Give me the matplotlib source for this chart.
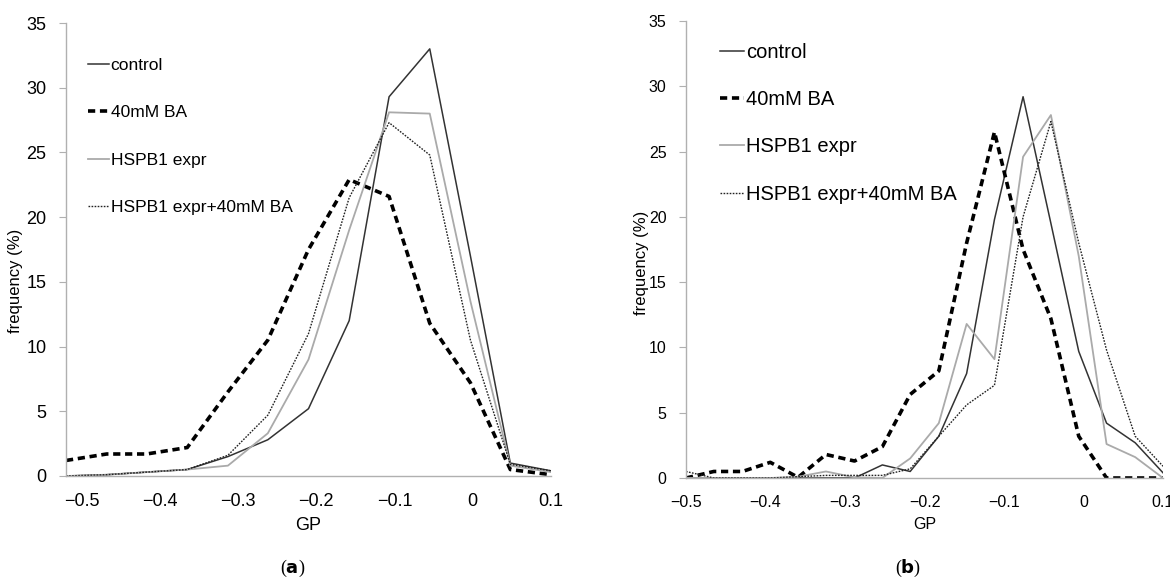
import numpy as np
import matplotlib
matplotlib.use("Agg")
from matplotlib import pyplot as plt

plt.rcParams['font.family'] = ['Liberation Sans', 'DejaVu Sans']

# panel (a) data
gp_a = [-0.52, -0.468, -0.417, -0.365, -0.313, -0.262, -0.21, -0.158, -0.107, -0.055, -0.003, 0.048, 0.1]
control_a = [0.0, 0.1, 0.3, 0.5, 1.5, 2.8, 5.2, 12.0, 29.3, 33.0, 17.0, 1.0, 0.4]
ba_a = [1.2, 1.7, 1.7, 2.2, 6.5, 10.5, 17.5, 22.9, 21.6, 11.8, 7.2, 0.5, 0.1]
hspb1_a = [0.0, 0.1, 0.3, 0.5, 0.8, 3.3, 9.0, 19.0, 28.1, 28.0, 13.5, 0.8, 0.3]
hspb1_ba_a = [0.0, 0.1, 0.3, 0.5, 1.6, 4.7, 11.0, 21.5, 27.3, 24.8, 10.5, 0.9, 0.4]

# panel (b) data
gp_b = [-0.5, -0.465, -0.429, -0.394, -0.359, -0.324, -0.288, -0.253, -0.218,
        -0.182, -0.147, -0.112, -0.076, -0.041, -0.006, 0.029, 0.065, 0.1]
control_b = [0.0, 0.0, 0.0, 0.0, 0.0, 0.0, 0.0, 1.0, 0.5, 3.2, 8.0, 19.8, 29.2, 19.5, 9.7, 4.2, 2.7, 0.4]
ba_b = [0.0, 0.5, 0.5, 1.2, 0.05, 1.8, 1.3, 2.4, 6.4, 8.2, 18.0, 26.5, 17.5, 12.2, 3.2, 0.0, 0.0, 0.0]
hspb1_b = [0.0, 0.0, 0.0, 0.0, 0.1, 0.5, 0.05, 0.0, 1.5, 4.2, 11.8, 9.1, 24.6, 27.8, 17.0, 2.6, 1.6, 0.0]
hspb1_ba_b = [0.5, 0.0, 0.0, 0.0, 0.1, 0.2, 0.2, 0.2, 0.7, 3.2, 5.6, 7.1, 20.0, 27.3, 18.0, 9.8, 3.2, 0.9]

labels = ["control", "40mM BA", "HSPB1 expr", "HSPB1 expr+40mM BA"]
xticks = [-0.5, -0.4, -0.3, -0.2, -0.1, 0, 0.1]
xticklabels = ["\u22120.5", "\u22120.4", "\u22120.3", "\u22120.2", "\u22120.1", "0", "0.1"]
yticks = [0, 5, 10, 15, 20, 25, 30, 35]

fig = plt.figure(figsize=(11.7, 5.78), dpi=100)
W, H = 1170, 578


def panel(rect, gp, series, xlim, tick_fs, leg_fs, leg_anchor, lab_spacing, ylab_pos, ylab_fs):
    l, t, r, b = rect
    ax = fig.add_axes([l / W, 1 - b / H, (r - l) / W, (b - t) / H])
    ctl, ba, hs, hsba = series
    ax.plot(gp, ctl, color="#333333", lw=1.1, label=labels[0])
    ax.plot(gp, ba, color="black", lw=2.6, linestyle=(0, (2.0, 1.3)), label=labels[1])
    ax.plot(gp, hs, color="#aaaaaa", lw=1.3, label=labels[2])
    ax.plot(gp, hsba, color="#222222", lw=1.0, linestyle=(0, (1.2, 1.0)), label=labels[3])
    ax.set_xlim(*xlim)
    ax.set_ylim(0, 35)
    ax.set_xticks(xticks)
    ax.set_xticklabels(xticklabels)
    ax.set_yticks(yticks)
    for s in ["top", "right"]:
        ax.spines[s].set_visible(False)
    for s in ["left", "bottom"]:
        ax.spines[s].set_color("#b0b0b0")
        ax.spines[s].set_linewidth(1.0)
    ax.tick_params(axis="y", length=5, color="#b0b0b0", labelsize=tick_fs, pad=9)
    ax.tick_params(axis="x", length=0, labelsize=tick_fs, pad=12)
    ax.set_xlabel("GP", fontsize=tick_fs, labelpad=5)
    ax.set_ylabel("frequency (%)", fontsize=ylab_fs)
    ax.yaxis.set_label_coords(*ylab_pos)
    ax.legend(loc="upper left", bbox_to_anchor=(leg_anchor[0] / W, 1 - leg_anchor[1] / H),
              bbox_transform=fig.transFigure, frameon=False, fontsize=leg_fs,
              handlelength=1.2, handletextpad=0.1, labelspacing=lab_spacing,
              borderpad=0, borderaxespad=0)
    return ax


panel((66, 23, 551, 476), gp_a, (control_a, ba_a, hspb1_a, hspb1_ba_a), (-0.52, 0.1),
      13, 12.5, (88, 58), 1.85, (-0.088, 0.43), 12)
panel((686, 21, 1163, 478), gp_b, (control_b, ba_b, hspb1_b, hspb1_ba_b), (-0.5, 0.1),
      11.5, 14.5, (720, 43), 1.4, (-0.078, 0.47), 12)

fig.text(293 / W, 1 - 568 / H, r"($\mathbf{a}$)", ha="center", va="center",
         fontsize=13, family="Liberation Serif")
fig.text(908 / W, 1 - 568 / H, r"($\mathbf{b}$)", ha="center", va="center",
         fontsize=13, family="Liberation Serif")

fig.savefig("out.png", dpi=100)
